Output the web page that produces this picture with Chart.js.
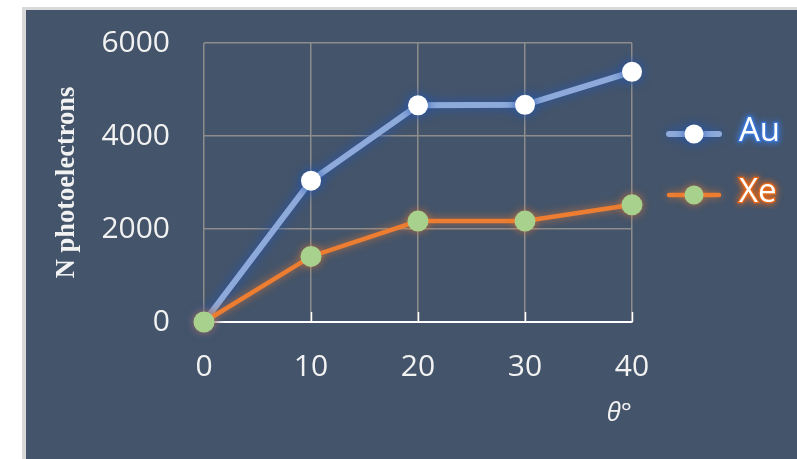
<!DOCTYPE html>
<html>
<head>
<meta charset="utf-8">
<script src="https://cdn.jsdelivr.net/npm/chart.js@4"></script>
<style>
  html, body { margin: 0; padding: 0; background: #ffffff; }
  #wrap { width: 797px; height: 459px; }
</style>
</head>
<body>
<div id="wrap"><canvas id="photoChart" width="797" height="459"></canvas></div>
<script>
const angles = [0, 10, 20, 30, 40];
const auCounts = [0, 3040, 4660, 4670, 5380];
const xeCounts = [0, 1410, 2170, 2170, 2520];
const yTicks = [0, 2000, 4000, 6000];

const PANEL = '#44546a';
const GRID = '#8c8c8c';
const LABEL = '#f2f2f2';

function toPoints(values) {
    return angles.map((a, i) => ({ x: a, y: values[i] }));
}

// dark panel with a thin grey rim on the left and top
const panelBackground = {
    id: 'panelBackground',
    beforeDraw(chart) {
        const { ctx, width, height } = chart;
        ctx.save();
        ctx.fillStyle = '#ffffff';
        ctx.fillRect(0, 0, width, height);
        ctx.fillStyle = '#d9d9d9';
        ctx.fillRect(22, 7, width - 22, height - 7);
        ctx.fillStyle = PANEL;
        ctx.fillRect(26, 10, width - 26, height - 10);
        ctx.restore();
    },
};

// soft coloured glow around each series
const seriesGlow = {
    id: 'seriesGlow',
    beforeDatasetDraw(chart, args) {
        const ds = chart.data.datasets[args.index];
        chart.ctx.save();
        chart.ctx.shadowColor = ds.glowColor;
        chart.ctx.shadowBlur = ds.glowBlur;
    },
    afterDatasetDraw(chart) {
        chart.ctx.restore();
    },
};

// short white ticks pointing up from the x axis
const innerTicks = {
    id: 'innerTicks',
    beforeDatasetsDraw(chart) {
        const { ctx, chartArea } = chart;
        const xs = chart.scales.x;
        ctx.save();
        ctx.strokeStyle = '#ffffff';
        ctx.lineWidth = 1.5;
        xs.ticks.forEach((t) => {
            const px = Math.round(xs.getPixelForValue(t.value)) + 0.5;
            ctx.beginPath();
            ctx.moveTo(px, chartArea.bottom);
            ctx.lineTo(px, chartArea.bottom - 10);
            ctx.stroke();
        });
        ctx.restore();
    },
};

// legend: line sample with marker, glowing label
const sideLegend = {
    id: 'sideLegend',
    afterDraw(chart) {
        const { ctx } = chart;
        const rows = [
            { ds: chart.data.datasets[0], y: 134 },
            { ds: chart.data.datasets[1], y: 195 },
        ];
        rows.forEach(({ ds, y }) => {
            ctx.save();
            ctx.shadowColor = ds.glowColor;
            ctx.shadowBlur = ds.glowBlur;
            ctx.strokeStyle = ds.borderColor;
            ctx.lineWidth = ds.borderWidth;
            ctx.lineCap = 'round';
            ctx.beginPath();
            ctx.moveTo(669, y);
            ctx.lineTo(719, y);
            ctx.stroke();
            ctx.fillStyle = ds.pointBackgroundColor;
            ctx.beginPath();
            ctx.arc(694, y, 9.5, 0, Math.PI * 2);
            ctx.fill();
            ctx.font = '33px "Open Sans"';
            ctx.textBaseline = 'middle';
            ctx.shadowColor = ds.textGlow;
            ctx.shadowBlur = 7;
            ctx.lineWidth = 2.5;
            ctx.strokeStyle = ds.textGlow;
            ctx.strokeText(ds.label, 739, y - 2);
            ctx.fillStyle = '#ffffff';
            ctx.fillText(ds.label, 739, y - 2);
            ctx.restore();
        });
    },
};

new Chart(document.getElementById('photoChart'), {
    type: 'line',
    data: {
        datasets: [
            {
                label: 'Au',
                data: toPoints(auCounts),
                borderColor: '#8eaadb',
                borderWidth: 6,
                pointRadius: 10,
                pointBackgroundColor: '#ffffff',
                pointBorderWidth: 0,
                glowColor: '#2456b0',
                glowBlur: 12,
                textGlow: '#3a78d8',
                order: 1,
                clip: false,
            },
            {
                label: 'Xe',
                data: toPoints(xeCounts),
                borderColor: '#ed7d31',
                borderWidth: 4.5,
                pointRadius: 10.5,
                pointBackgroundColor: '#a9d18e',
                pointBorderWidth: 0,
                glowColor: 'rgba(237,125,49,0.7)',
                glowBlur: 8,
                textGlow: '#e86a1c',
                order: 0,
                clip: false,
            },
        ],
    },
    options: {
        responsive: false,
        animation: false,
        devicePixelRatio: 1,
        layout: { padding: { left: 0, top: 43, right: 165, bottom: 0 } },
        plugins: {
            legend: { display: false },
            tooltip: { enabled: false },
        },
        scales: {
            x: {
                type: 'linear',
                min: 0,
                max: 40,
                afterFit(scale) {
                    scale.height = 137;
                    scale.paddingLeft = 0;
                    scale.paddingRight = 0;
                },
                afterBuildTicks(scale) {
                    scale.ticks = angles.map((v) => ({ value: v }));
                },
                ticks: {
                    color: LABEL,
                    font: { family: 'Open Sans', size: 30 },
                    padding: 27,
                    maxRotation: 0,
                    callback: (v) => String(v),
                },
                grid: { color: GRID, lineWidth: 1.5, drawTicks: false },
                border: { display: true, color: '#ffffff', width: 2 },
                title: {
                    display: true,
                    text: 'θ°',
                    align: 'end',
                    color: LABEL,
                    font: { family: 'Open Sans', size: 26, style: 'italic' },
                    padding: { top: 0, bottom: 30 },
                },
            },
            y: {
                min: 0,
                max: 6000,
                afterFit(scale) {
                    scale.width = 204;
                    scale.paddingTop = 0;
                    scale.paddingBottom = 0;
                },
                afterBuildTicks(scale) {
                    scale.ticks = yTicks.map((v) => ({ value: v }));
                },
                ticks: {
                    color: LABEL,
                    font: { family: 'Open Sans', size: 30 },
                    padding: 34,
                    callback: (v) => String(v),
                },
                grid: {
                    color: (c) => (c.tick && c.tick.value === 0 ? 'rgba(0,0,0,0)' : GRID),
                    lineWidth: 1.5,
                    drawTicks: false,
                },
                border: { display: false },
                title: {
                    display: true,
                    text: 'N photoelectrons',
                    color: LABEL,
                    font: { family: 'Liberation Serif', size: 26.5, weight: 'bold' },
                    padding: { top: 51, bottom: 0 },
                },
            },
        },
    },
    plugins: [panelBackground, seriesGlow, innerTicks, sideLegend],
});
</script>
</body>
</html>
